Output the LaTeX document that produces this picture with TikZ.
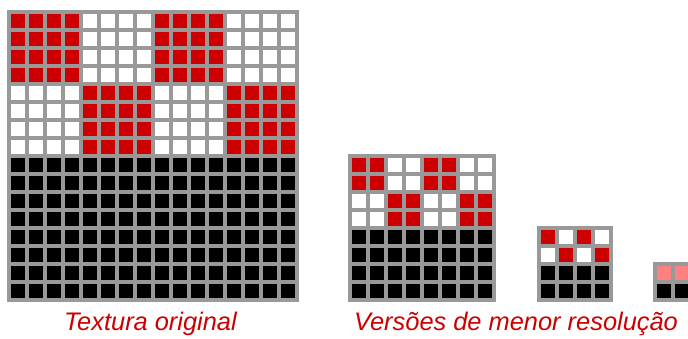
\documentclass[tikz,border=0pt]{standalone}
\usepackage{fontspec}
\setmainfont{Liberation Sans}
\definecolor{cellred}{RGB}{204,0,0}
\definecolor{cellpink}{RGB}{255,128,128}
\definecolor{gridgray}{RGB}{153,153,153}
\definecolor{lblred}{RGB}{204,0,0}
\tikzset{
  gl/.style={draw=gridgray, line width=4pt, line cap=rect},
  lbl/.style={text=lblred, font=\fontsize{25.4}{29}\selectfont\itshape, anchor=base, inner sep=0pt},
}
\begin{document}
\begin{tikzpicture}[x=1pt,y=-1pt]
\useasboundingbox[fill=white] (0,0) rectangle (688,338);
% ---- original texture 16x16
\begin{scope}[shift={(8.8,11.5)}, x=18pt, y=-18pt]
  \foreach \c in {0,8} \fill[cellred] (\c,0) rectangle ++(4,4);
  \foreach \c in {4,12} \fill[cellred] (\c,4) rectangle ++(4,4);
  \fill[black] (0,8) rectangle (16,16);
  \foreach \i in {0,...,16} {
    \draw[gl] (\i,0) -- (\i,16);
    \draw[gl] (0,\i) -- (16,\i);
  }
\end{scope}
% ---- 8x8
\begin{scope}[shift={(350.2,155.5)}, x=18pt, y=-18pt]
  \foreach \c in {0,4} \fill[cellred] (\c,0) rectangle ++(2,2);
  \foreach \c in {2,6} \fill[cellred] (\c,2) rectangle ++(2,2);
  \fill[black] (0,4) rectangle (8,8);
  \foreach \i in {0,...,8} {
    \draw[gl] (\i,0) -- (\i,8);
    \draw[gl] (0,\i) -- (8,\i);
  }
\end{scope}
% ---- 4x4
\begin{scope}[shift={(539.2,227.5)}, x=18pt, y=-18pt]
  \foreach \c in {0,2} \fill[cellred] (\c,0) rectangle ++(1,1);
  \foreach \c in {1,3} \fill[cellred] (\c,1) rectangle ++(1,1);
  \fill[black] (0,2) rectangle (4,4);
  \foreach \i in {0,...,4} {
    \draw[gl] (\i,0) -- (\i,4);
    \draw[gl] (0,\i) -- (4,\i);
  }
\end{scope}
% ---- 2x2
\begin{scope}[shift={(655.2,263.5)}, x=18pt, y=-18pt]
  \fill[cellpink] (0,0) rectangle (2,1);
  \fill[black] (0,1) rectangle (2,2);
  \foreach \i in {0,...,2} {
    \draw[gl] (\i,0) -- (\i,2);
    \draw[gl] (0,\i) -- (2,\i);
  }
\end{scope}
\node[lbl] (orig) at (150.4,330.7) {Textura original};
\node[lbl] (vers) at (516,330.7) {Versões de menor resolução};
\end{tikzpicture}
\end{document}
